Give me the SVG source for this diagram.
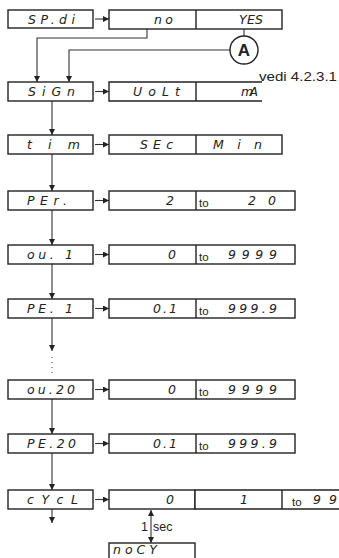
<svg xmlns="http://www.w3.org/2000/svg" width="339" height="558" viewBox="0 0 339 558">
<defs>
<marker id="ah" viewBox="0 0 6 6" refX="6" refY="3" markerWidth="6" markerHeight="6" markerUnits="userSpaceOnUse" orient="auto-start-reverse"><path d="M0,0 L6,3 L0,6 Z" fill="#222"/></marker>
<style>
.box{fill:#fff;stroke:#222;stroke-width:1.4}
.ln{fill:none;stroke:#333;stroke-width:1.1}
.seg{font-family:"DejaVu Sans","Liberation Sans",sans-serif;font-style:italic;font-size:12.5px;fill:#222}
.to{font-family:"Liberation Sans",Arial,sans-serif;font-size:11.5px;fill:#222}
.lbl{font-family:"Liberation Sans",Arial,sans-serif;font-size:12.5px;fill:#222}
</style>
</defs>
<rect width="339" height="558" fill="#fff"/>

<g id="connectors">
<path class="ln" d="M95,19 H109" marker-end="url(#ah)"/>
<path class="ln" d="M95,91.5 H109" marker-end="url(#ah)"/>
<path class="ln" d="M95,144.5 H109" marker-end="url(#ah)"/>
<path class="ln" d="M95,200.5 H109" marker-end="url(#ah)"/>
<path class="ln" d="M95,254.5 H109" marker-end="url(#ah)"/>
<path class="ln" d="M95,308.5 H109" marker-end="url(#ah)"/>
<path class="ln" d="M95,389.5 H109" marker-end="url(#ah)"/>
<path class="ln" d="M95,443.5 H109" marker-end="url(#ah)"/>
<path class="ln" d="M95,499.5 H109" marker-end="url(#ah)"/>
<path class="ln" d="M147,29 V38 H37 V82" marker-end="url(#ah)"/>
<path class="ln" d="M244,29 V36"/>
<path class="ln" d="M230,50 H69 V82" marker-end="url(#ah)"/>
<path class="ln" d="M52,101 V135" marker-end="url(#ah)"/>
<path class="ln" d="M52,154 V191" marker-end="url(#ah)"/>
<path class="ln" d="M52,210 V245" marker-end="url(#ah)"/>
<path class="ln" d="M52,264 V299" marker-end="url(#ah)"/>
<path class="ln" d="M52,318 V351" marker-end="url(#ah)"/>
<path d="M52,357 V374" fill="none" stroke="#444" stroke-width="1" stroke-dasharray="1 4"/>
<path class="ln" d="M52,399 V434" marker-end="url(#ah)"/>
<path class="ln" d="M52,453 V490" marker-end="url(#ah)"/>
<path class="ln" d="M52,509 V523" marker-end="url(#ah)"/>
<path class="ln" d="M151,510 V543" marker-start="url(#ah)" marker-end="url(#ah)"/>
</g>

<g id="n-spdi">
<rect class="box" x="8" y="10" width="85" height="18"/>
<text class="seg" x="28" y="24" textLength="47" lengthAdjust="spacing">SP.di</text>
</g>
<g id="n-spdi-opt">
<rect class="box" x="109" y="10" width="173" height="19"/>
<line class="box" x1="196" y1="10" x2="196" y2="29"/>
<text class="seg" x="173" y="24" text-anchor="end" textLength="19" lengthAdjust="spacing">no</text>
<text class="seg" x="263" y="24" text-anchor="end" textLength="24" lengthAdjust="spacing">YES</text>
</g>
<g id="n-A">
<circle cx="244" cy="50" r="14" fill="#fff" stroke="#222" stroke-width="1.4"/>
<text x="244" y="56" text-anchor="middle" font-family="Liberation Sans,Arial,sans-serif" font-weight="bold" font-size="17" fill="#222">A</text>
</g>
<g id="n-sign">
<rect class="box" x="8" y="82" width="85" height="19"/>
<text class="seg" x="28" y="96" textLength="47" lengthAdjust="spacing">SiGn</text>
</g>
<g id="n-sign-opt">
<path class="box" d="M262,82 H109 V101 H262 M196,82 V101" fill="none"/>
<text class="seg" x="180" y="96" text-anchor="end" textLength="47" lengthAdjust="spacing">UoLt</text>
<text class="seg" x="258" y="96" text-anchor="end" textLength="17" lengthAdjust="spacing">mA</text>
<text class="lbl" x="259" y="81" textLength="78" lengthAdjust="spacingAndGlyphs">vedi 4.2.3.1</text>
</g>
<g id="n-tim">
<rect class="box" x="8" y="135" width="85" height="19"/>
<text class="seg" x="27" y="149" textLength="53" lengthAdjust="spacing">tim</text>
</g>
<g id="n-tim-opt">
<rect class="box" x="109" y="135" width="173" height="19"/>
<line class="box" x1="196" y1="135" x2="196" y2="154"/>
<text class="seg" x="173" y="149" text-anchor="end" textLength="33" lengthAdjust="spacing">SEc</text>
<text class="seg" x="262" y="149" text-anchor="end" textLength="49" lengthAdjust="spacing">Min</text>
</g>
<g id="n-per">
<rect class="box" x="8" y="191" width="85" height="19"/>
<text class="seg" x="27" y="205" textLength="40" lengthAdjust="spacing">PEr.</text>
</g>
<g id="n-per-rng">
<rect class="box" x="109" y="191" width="186" height="19"/>
<line class="box" x1="196" y1="191" x2="196" y2="210"/>
<text class="seg" x="174" y="205" text-anchor="end">2</text>
<text class="to" x="199" y="207">to</text>
<text class="seg" x="276" y="205" text-anchor="end" textLength="28" lengthAdjust="spacing">20</text>
</g>
<g id="n-ou1">
<rect class="box" x="8" y="245" width="85" height="19"/>
<text class="seg" x="27" y="259" textLength="46" lengthAdjust="spacing">ou. 1</text>
</g>
<g id="n-ou1-rng">
<rect class="box" x="109" y="245" width="186" height="19"/>
<line class="box" x1="196" y1="245" x2="196" y2="264"/>
<text class="seg" x="176" y="259" text-anchor="end">0</text>
<text class="to" x="199" y="261">to</text>
<text class="seg" x="277" y="259" text-anchor="end" textLength="49" lengthAdjust="spacing">9999</text>
</g>
<g id="n-pe1">
<rect class="box" x="8" y="299" width="85" height="19"/>
<text class="seg" x="27" y="313" textLength="46" lengthAdjust="spacing">PE. 1</text>
</g>
<g id="n-pe1-rng">
<rect class="box" x="109" y="299" width="186" height="19"/>
<line class="box" x1="196" y1="299" x2="196" y2="318"/>
<text class="seg" x="177" y="313" text-anchor="end" textLength="24" lengthAdjust="spacing">0.1</text>
<text class="to" x="199" y="315">to</text>
<text class="seg" x="277" y="313" text-anchor="end" textLength="49" lengthAdjust="spacing">999.9</text>
</g>
<g id="n-ou20">
<rect class="box" x="8" y="380" width="85" height="19"/>
<text class="seg" x="27" y="394" textLength="48" lengthAdjust="spacing">ou.20</text>
</g>
<g id="n-ou20-rng">
<rect class="box" x="109" y="380" width="186" height="19"/>
<line class="box" x1="196" y1="380" x2="196" y2="399"/>
<text class="seg" x="176" y="394" text-anchor="end">0</text>
<text class="to" x="199" y="396">to</text>
<text class="seg" x="277" y="394" text-anchor="end" textLength="49" lengthAdjust="spacing">9999</text>
</g>
<g id="n-pe20">
<rect class="box" x="8" y="434" width="85" height="19"/>
<text class="seg" x="27" y="448" textLength="49" lengthAdjust="spacing">PE.20</text>
</g>
<g id="n-pe20-rng">
<rect class="box" x="109" y="434" width="186" height="19"/>
<line class="box" x1="196" y1="434" x2="196" y2="453"/>
<text class="seg" x="177" y="448" text-anchor="end" textLength="24" lengthAdjust="spacing">0.1</text>
<text class="to" x="199" y="450">to</text>
<text class="seg" x="277" y="448" text-anchor="end" textLength="49" lengthAdjust="spacing">999.9</text>
</g>
<g id="n-cycl">
<rect class="box" x="8" y="490" width="85" height="19"/>
<text class="seg" x="27" y="504" textLength="51" lengthAdjust="spacing">cYcL</text>
</g>
<g id="n-cycl-val">
<rect class="box" x="109" y="490" width="86" height="19" stroke-width="1"/>
<text class="seg" x="174" y="504" text-anchor="end">0</text>
</g>
<g id="n-cycl-rng">
<path class="box" d="M340,490 H195 V509 H340 M282,490 V509" fill="none"/>
<text class="seg" x="248" y="504" text-anchor="end">1</text>
<text class="to" x="292" y="506">to</text>
<text class="seg" x="337" y="504" text-anchor="end" textLength="24" lengthAdjust="spacing">99</text>
</g>
<g id="n-1sec">
<text class="lbl" x="141" y="531">1</text>
<text class="lbl" x="153" y="531">sec</text>
</g>
<g id="n-nocy">
<rect class="box" x="109" y="543" width="86" height="19"/>
<text class="seg" x="113" y="554" font-size="11.5" textLength="44" lengthAdjust="spacing">noCY</text>
</g>
</svg>
